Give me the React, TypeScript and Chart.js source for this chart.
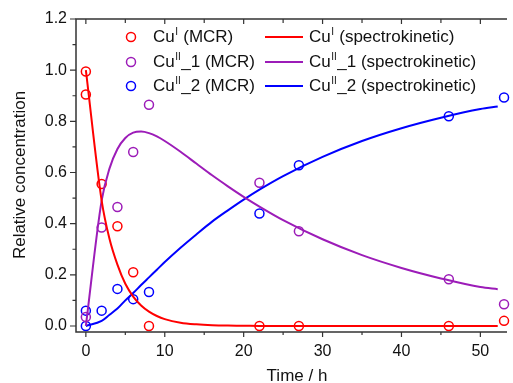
import React, { useEffect, useRef } from "react";
import { Chart, registerables } from "chart.js";

Chart.register(...registerables);

// ---------- data ----------
const xTickValues = [0, 10, 20, 30, 40, 50];
const xMinorTickValues = [5, 15, 25, 35, 45];
const yTickValues = [0, 0.2, 0.4, 0.6, 0.8, 1.0, 1.2];
const yMinorTickValues = [0.1, 0.3, 0.5, 0.7, 0.9, 1.1];

// MCR results (open circles)
const cuITimes = [0, 0, 2, 4, 6, 8, 22, 27, 46, 53];
const cuIMcr = [0.995, 0.905, 0.555, 0.39, 0.21, 0.0, 0.0, 0.0, 0.0, 0.02];
const cuII1Times = [0, 2, 4, 6, 8, 22, 27, 46, 53];
const cuII1Mcr = [0.035, 0.385, 0.465, 0.68, 0.865, 0.56, 0.37, 0.183, 0.085];
const cuII2Times = [0, 0, 2, 4, 6, 8, 22, 27, 46, 53];
const cuII2Mcr = [0.06, 0.0, 0.06, 0.145, 0.105, 0.133, 0.44, 0.628, 0.82, 0.893];

// spectrokinetic curves
const modelTimes = [0, 2, 3, 4, 5, 6, 7, 8, 9, 10, 12, 14, 16, 18, 20, 22, 25, 30, 35, 40, 45, 50, 52.2];
const cuIModel = [1.0, 0.49, 0.34, 0.24, 0.165, 0.115, 0.08, 0.056, 0.039, 0.027, 0.013, 0.0065, 0.003, 0.0015, 0.001, 0.0, 0.0, 0.0, 0.0, 0.0, 0.0, 0.0, 0.0];
const cuII1Model = [0.0, 0.49, 0.616, 0.692, 0.735, 0.756, 0.76, 0.754, 0.741, 0.723, 0.681, 0.635, 0.589, 0.546, 0.505, 0.467, 0.414, 0.339, 0.277, 0.227, 0.186, 0.152, 0.144];
const cuII2Model = [0.0, 0.02, 0.044, 0.068, 0.1, 0.129, 0.16, 0.19, 0.22, 0.25, 0.306, 0.358, 0.408, 0.452, 0.494, 0.533, 0.586, 0.661, 0.723, 0.773, 0.814, 0.848, 0.858];

const legendMcr = [
  { base: "Cu", sup: "I", rest: " (MCR)" },
  { base: "Cu", sup: "II", rest: "_1 (MCR)" },
  { base: "Cu", sup: "II", rest: "_2 (MCR)" },
];
const legendModel = [
  { base: "Cu", sup: "I", rest: " (spectrokinetic)" },
  { base: "Cu", sup: "II", rest: "_1 (spectrokinetic)" },
  { base: "Cu", sup: "II", rest: "_2 (spectrokinetic)" },
];
const xTitle = "Time / h";
const yTitle = "Relative concentration";

// ---------- style ----------
const RED = "#ff0000";
const PURPLE = "#9c1cb8";
const BLUE = "#0000ff";
const COLORS = [RED, PURPLE, BLUE];
const AXIS = "#333333";
const FONT = "'Liberation Sans', Arial, sans-serif";

const pts = (xs: number[], ys: number[]) => xs.map((x, i) => ({ x, y: ys[i] }));

function drawRich(ctx: CanvasRenderingContext2D, x: number, y: number, item: { base: string; sup: string; rest: string }) {
  ctx.textBaseline = "middle";
  ctx.textAlign = "left";
  ctx.font = `17px ${FONT}`;
  ctx.fillText(item.base, x, y);
  let cx = x + ctx.measureText(item.base).width + 0.5;
  ctx.font = `10px ${FONT}`;
  ctx.fillText(item.sup, cx, y - 5);
  cx += ctx.measureText(item.sup).width + 0.5;
  ctx.font = `17px ${FONT}`;
  ctx.fillText(item.rest, cx, y);
}

const framePlugin = {
  id: "frame",
  afterDraw(chart: any) {
    const { ctx, chartArea: a, scales } = chart;
    const xs = scales.x;
    const ys = scales.y;
    ctx.save();
    ctx.strokeStyle = AXIS;
    ctx.lineWidth = 1.5;
    ctx.beginPath();
    ctx.moveTo(a.right, a.top);
    ctx.lineTo(a.left, a.top);
    ctx.lineTo(a.left, a.bottom);
    ctx.lineTo(a.right, a.bottom);
    ctx.stroke();

    ctx.lineWidth = 1.2;
    ctx.beginPath();
    for (const v of xTickValues) {
      const p = xs.getPixelForValue(v);
      ctx.moveTo(p, a.bottom);
      ctx.lineTo(p, a.bottom + 5);
      ctx.moveTo(p, a.top);
      ctx.lineTo(p, a.top + 5);
    }
    for (const v of xMinorTickValues) {
      const p = xs.getPixelForValue(v);
      ctx.moveTo(p, a.bottom);
      ctx.lineTo(p, a.bottom + 3);
      ctx.moveTo(p, a.top);
      ctx.lineTo(p, a.top + 4);
    }
    for (const v of yTickValues) {
      const p = ys.getPixelForValue(v);
      ctx.moveTo(a.left, p);
      ctx.lineTo(a.left - 6, p);
    }
    for (const v of yMinorTickValues) {
      const p = ys.getPixelForValue(v);
      ctx.moveTo(a.left, p);
      ctx.lineTo(a.left - 3.5, p);
    }
    ctx.stroke();

    // axis titles
    ctx.fillStyle = "#111";
    ctx.font = `17px ${FONT}`;
    ctx.textAlign = "center";
    ctx.textBaseline = "middle";
    ctx.fillText(xTitle, 297, 376);
    ctx.save();
    ctx.translate(20, 175);
    ctx.rotate(-Math.PI / 2);
    ctx.fillText(yTitle, 0, 0);
    ctx.restore();

    // legend
    const rows = [37, 62, 86];
    rows.forEach((ry, i) => {
      ctx.strokeStyle = COLORS[i];
      ctx.lineWidth = 1.5;
      ctx.beginPath();
      ctx.arc(131, ry, 4.5, 0, Math.PI * 2);
      ctx.stroke();
      ctx.fillStyle = "#111";
      drawRich(ctx, 153, ry, legendMcr[i]);
      ctx.strokeStyle = COLORS[i];
      ctx.lineWidth = 2;
      ctx.beginPath();
      ctx.moveTo(265, ry);
      ctx.lineTo(303, ry);
      ctx.stroke();
      ctx.fillStyle = "#111";
      drawRich(ctx, 309, ry, legendModel[i]);
    });
    ctx.restore();
  },
};

export default function App() {
  const ref = useRef<HTMLCanvasElement | null>(null);
  useEffect(() => {
    if (!ref.current) return;
    const scatterDs = (label: string, xs: number[], ys: number[], color: string) => ({
      label,
      data: pts(xs, ys),
      showLine: false,
      pointStyle: "circle",
      pointRadius: 4.5,
      pointBorderWidth: 1.5,
      pointBorderColor: color,
      pointBackgroundColor: "rgba(0,0,0,0)",
      borderColor: color,
      clip: false as any,
    });
    const lineDs = (label: string, ys: number[], color: string) => ({
      label,
      data: pts(modelTimes, ys),
      showLine: true,
      pointRadius: 0,
      borderWidth: 2,
      borderColor: color,
      backgroundColor: color,
      cubicInterpolationMode: "monotone" as const,
      fill: false,
    });
    const chart = new Chart(ref.current, {
      type: "scatter",
      data: {
        datasets: [
          lineDs("CuI (spectrokinetic)", cuIModel, RED),
          lineDs("CuII_1 (spectrokinetic)", cuII1Model, PURPLE),
          lineDs("CuII_2 (spectrokinetic)", cuII2Model, BLUE),
          scatterDs("CuI (MCR)", cuITimes, cuIMcr, RED),
          scatterDs("CuII_1 (MCR)", cuII1Times, cuII1Mcr, PURPLE),
          scatterDs("CuII_2 (MCR)", cuII2Times, cuII2Mcr, BLUE),
        ] as any,
      },
      options: {
        animation: false,
        responsive: true,
        maintainAspectRatio: false,
        layout: { padding: { top: 19, right: 0, left: 0, bottom: 0 } },
        plugins: { legend: { display: false }, tooltip: { enabled: false } },
        scales: {
          x: {
            type: "linear",
            min: -1.25,
            max: 53.375,
            grid: { display: false, drawTicks: false },
            border: { display: false },
            afterBuildTicks: (s: any) => {
              s.ticks = xTickValues.map((v) => ({ value: v }));
            },
            afterFit: (s: any) => {
              s.height = 51;
            },
            ticks: {
              autoSkip: false,
              maxRotation: 0,
              padding: 10,
              color: "#111",
              font: { family: FONT, size: 16 },
              callback: (v: any) => String(v),
            },
          },
          y: {
            type: "linear",
            min: -0.0235,
            max: 1.2,
            grid: { display: false, drawTicks: false },
            border: { display: false },
            afterBuildTicks: (s: any) => {
              s.ticks = yTickValues.map((v) => ({ value: v }));
            },
            afterFit: (s: any) => {
              s.width = 76;
            },
            ticks: {
              autoSkip: false,
              padding: 9,
              color: "#111",
              font: { family: FONT, size: 16 },
              callback: (v: any) => Number(v).toFixed(1),
            },
          },
        },
      },
      plugins: [framePlugin],
    });
    return () => chart.destroy();
  }, []);

  return (
    <div style={{ position: "absolute", left: 0, top: 0, width: 513, height: 383, background: "#fff" }}>
      <canvas ref={ref} />
    </div>
  );
}
